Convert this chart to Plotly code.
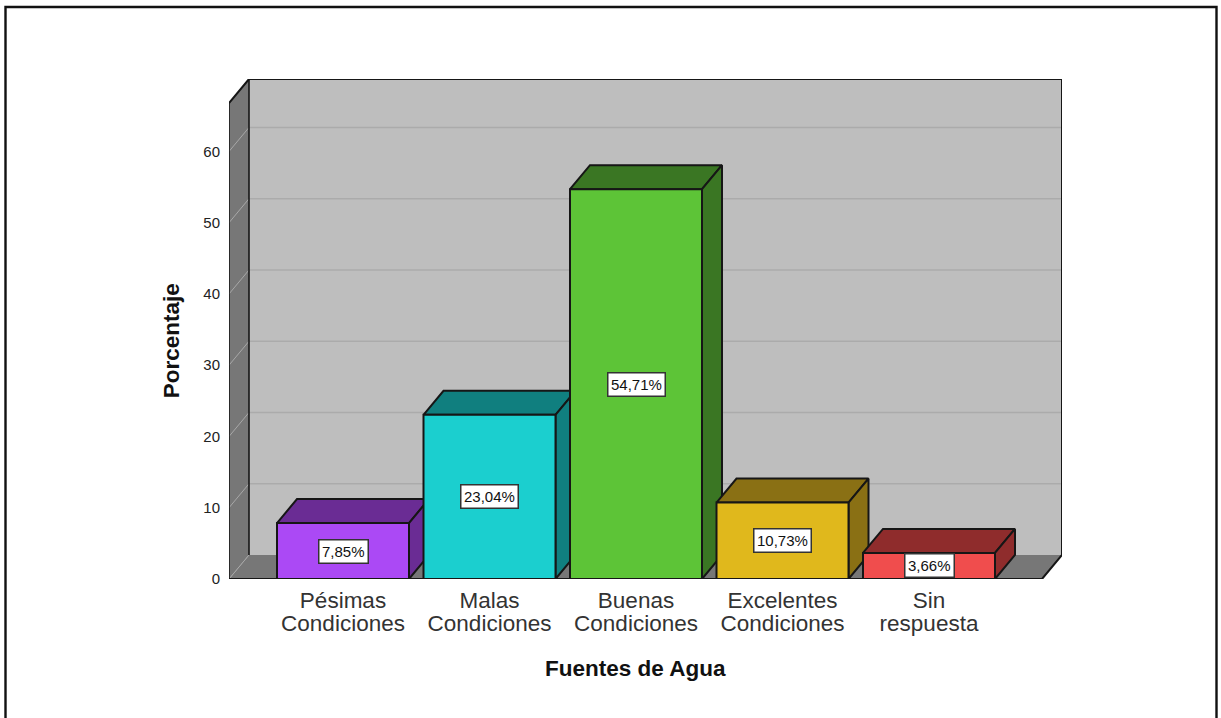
import plotly.graph_objects as go

categories_line1 = ["Pésimas", "Malas", "Buenas", "Excelentes", "Sin"]
categories_line2 = ["Condiciones", "Condiciones", "Condiciones", "Condiciones", "respuesta"]
values = [7.85, 23.04, 54.71, 10.73, 3.66]
labels = ["7,85%", "23,04%", "54,71%", "10,73%", "3,66%"]
front_colors = ["#ab49f5", "#1bcfcf", "#5dc437", "#e0b81c", "#f04d4d"]
shade_colors = ["#6a2c94", "#107f7f", "#3a7623", "#8a7014", "#8f2c2c"]
y_ticks = [0, 10, 20, 30, 40, 50, 60]
axis_title_x = "Fuentes de Agua"
axis_title_y = "Porcentaje"

W, H = 1221, 718
LEFT, RIGHT, TOP, BOTTOM = 229, 1062, 79, 578.6
UNIT_X = 146.5
UNIT_Y = 7.12
X0 = 343
DX = 20 / UNIT_X
DY = 24 / UNIT_Y
BAR = 132 / UNIT_X
xmin = (LEFT - X0) / UNIT_X
xmax = (RIGHT - X0) / UNIT_X
ymax = (BOTTOM - TOP) / UNIT_Y
x_front_max = xmax - DX
y_front_max = ymax - DY
EDGE = "#161616"
FONT = "Liberation Sans"


def poly(xs, ys, fill, line=EDGE, width=2.0, xaxis="x"):
    return go.Scatter(x=xs + xs[:1], y=ys + ys[:1], mode="lines", fill="toself",
                      fillcolor=fill, line=dict(color=line, width=width), xaxis=xaxis,
                      cliponaxis=False, hoverinfo="skip", showlegend=False)


def seg(xs, ys, color, width=1.0):
    return go.Scatter(x=xs, y=ys, mode="lines", line=dict(color=color, width=width),
                      cliponaxis=False, hoverinfo="skip", showlegend=False)


fig = go.Figure()
# walls
fig.add_trace(poly([xmin + DX, xmax, xmax, xmin + DX], [DY, DY, ymax, ymax], "#bebebe", width=0))
fig.add_trace(poly([xmin, xmin + DX, xmin + DX, xmin], [0, DY, ymax, y_front_max], "#777777", width=0))
fig.add_trace(poly([xmin, x_front_max, xmax, xmin + DX], [0, 0, DY, DY], "#777777", width=0))
# grid lines
for t in y_ticks:
    if t > 0:
        fig.add_trace(seg([xmin + DX, xmax], [t + DY, t + DY], "#ababab", 1.4))
    fig.add_trace(seg([xmin, xmin + DX], [t, t + DY], "#a8a8a8", 1.0))
# wall outline
fig.add_trace(seg([xmin, xmin + DX, xmax, xmax], [y_front_max, ymax, ymax, DY], EDGE, 2.0))
fig.add_trace(seg([xmin + DX, xmin + DX], [ymax, DY], EDGE, 1.6))
fig.add_trace(seg([xmin, xmin], [0, y_front_max], EDGE, 1.6))
fig.add_trace(seg([xmin, x_front_max, xmax], [0, 0, DY], EDGE, 2.0))

# bars: top and side faces, then front faces on the overlaid axis
for i, v in enumerate(values):
    l, r = i - BAR / 2, i + BAR / 2
    fig.add_trace(poly([l, r, r + DX, l + DX], [v, v, v + DY, v + DY], shade_colors[i]))
    fig.add_trace(poly([r, r + DX, r + DX, r], [0, DY, v + DY, v], shade_colors[i]))
for i, v in enumerate(values):
    l, r = i - BAR / 2, i + BAR / 2
    fig.add_trace(poly([l, r, r, l], [0, 0, v, v], front_colors[i], xaxis="x2"))

# value labels
for i, v in enumerate(values):
    fig.add_annotation(x=i, y=v / 2, text=labels[i], showarrow=False,
                       font=dict(family=FONT, size=15, color="#111111"),
                       bgcolor="white", bordercolor="#333333", borderwidth=1.5, borderpad=2.5)

fig.update_layout(
    width=W, height=H, autosize=False,
    margin=dict(l=LEFT, r=W - RIGHT, t=TOP, b=H - BOTTOM, pad=0),
    paper_bgcolor="white", plot_bgcolor="white", showlegend=False,
    xaxis=dict(range=[xmin, xmax], tickmode="array", tickvals=list(range(len(values))),
               ticktext=categories_line1, showgrid=False, zeroline=False, showline=False, ticks="",
               ticklabelstandoff=5,
               tickfont=dict(family=FONT, size=22.5, color="#333333")),
    xaxis2=dict(range=[xmin, xmax], overlaying="x", anchor="y", side="bottom", tickmode="array",
                tickvals=list(range(len(values))), ticktext=categories_line2, showgrid=False,
                zeroline=False, showline=False, ticks="", ticklabelstandoff=28,
                tickfont=dict(family=FONT, size=22.5, color="#333333")),
    yaxis=dict(range=[0, ymax], tickmode="array", tickvals=y_ticks, showgrid=False,
               zeroline=False, showline=False, ticks="", ticklabelstandoff=8,
               tickfont=dict(family=FONT, size=15, color="#222222")),
    shapes=[dict(type="rect", xref="paper", yref="paper", layer="below",
                 x0=(5.5 - LEFT) / (RIGHT - LEFT), x1=(1216.5 - LEFT) / (RIGHT - LEFT),
                 y0=-(730 - BOTTOM) / (BOTTOM - TOP), y1=(BOTTOM - 7) / (BOTTOM - TOP),
                 line=dict(color="#111111", width=2.4), fillcolor="white")],
)
fig.add_annotation(xref="paper", yref="paper", x=(635 - LEFT) / (RIGHT - LEFT),
                   y=-(668 - BOTTOM) / (BOTTOM - TOP), text="<b>" + axis_title_x + "</b>",
                   showarrow=False, font=dict(family=FONT, size=22.5, color="#111111"),
                   xanchor="center", yanchor="middle")
fig.add_annotation(xref="paper", yref="paper", x=-(229 - 171) / (RIGHT - LEFT),
                   y=(BOTTOM - 341) / (BOTTOM - TOP), text="<b>" + axis_title_y + "</b>",
                   showarrow=False, textangle=-90,
                   font=dict(family=FONT, size=22.5, color="#111111"),
                   xanchor="center", yanchor="middle")

fig.write_html("out.html", config={"displayModeBar": False},
               post_script="document.body.style.margin='0';document.body.style.overflow='hidden';")
